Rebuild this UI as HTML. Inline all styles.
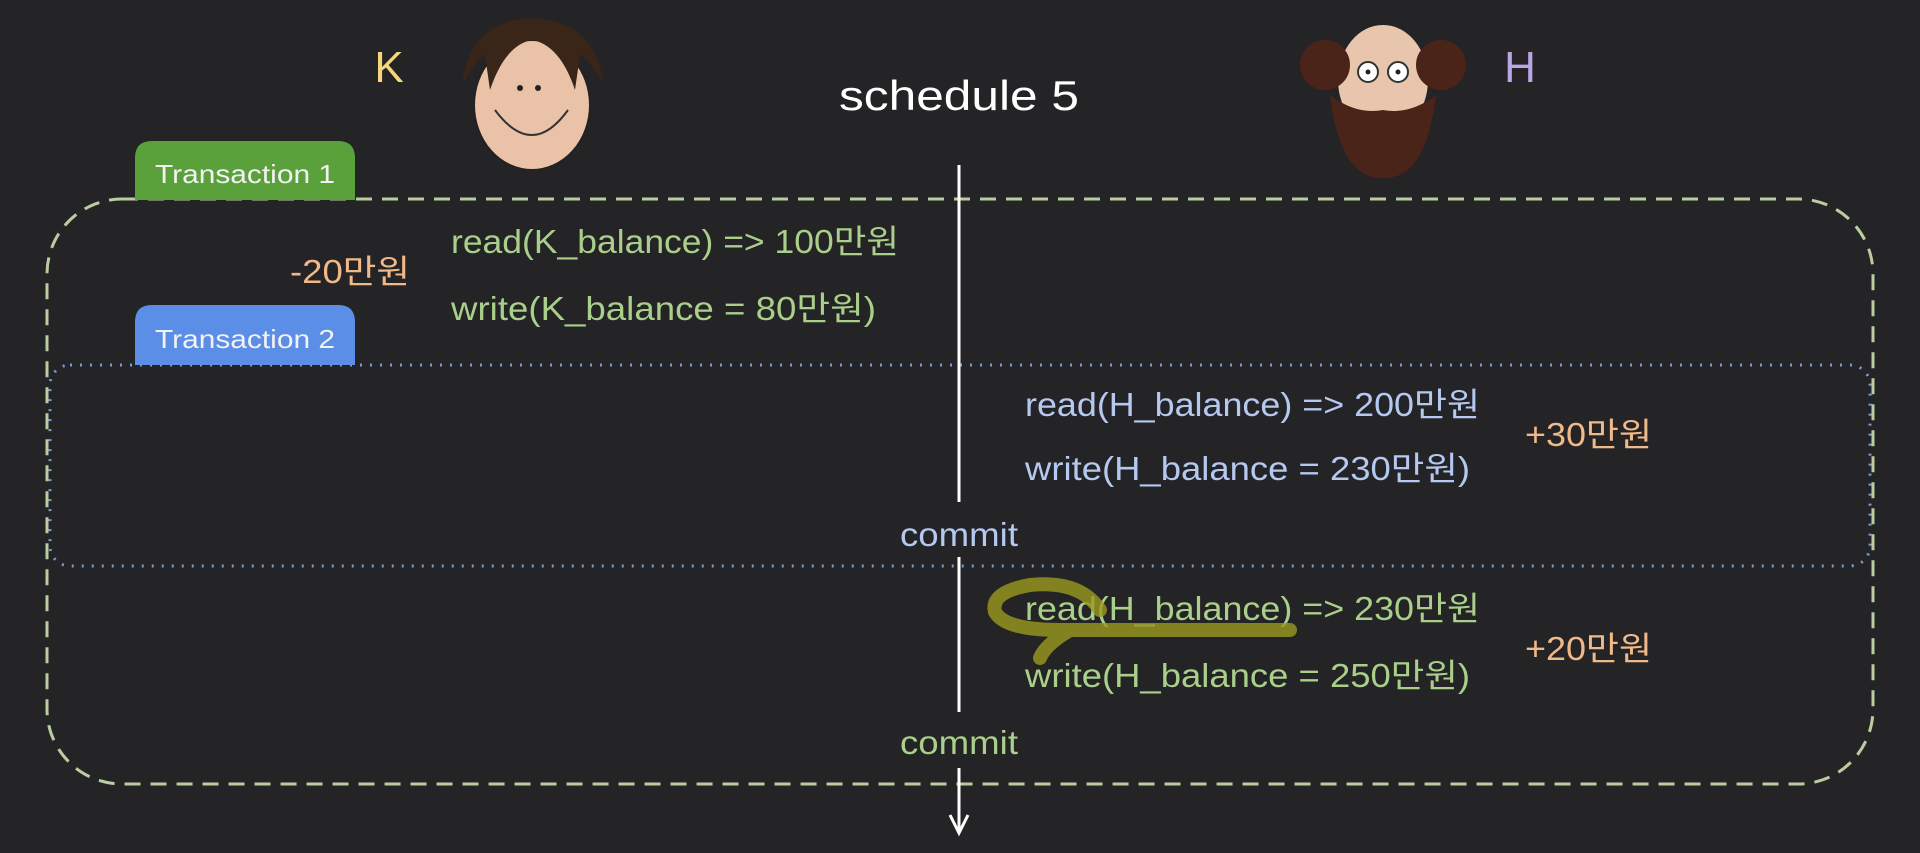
<!DOCTYPE html>
<html><head><meta charset="utf-8"><style>
html,body{margin:0;padding:0;background:#242325;}
svg{display:block}
text{font-family:"Liberation Sans","Noto Sans CJK KR",sans-serif;}
</style></head><body>
<svg width="1920" height="853" viewBox="0 0 1920 853" xmlns="http://www.w3.org/2000/svg">
<rect width="1920" height="853" fill="#242325"/>
<rect x="47" y="199" width="1826" height="585" rx="75" fill="none" stroke="#b9cda0" stroke-width="3" stroke-dasharray="16 10"/>
<rect x="50" y="365" width="1820" height="201" rx="20" fill="none" stroke="#7a9bd0" stroke-width="3" stroke-dasharray="2 8"/>
<path d="M135 200 V158 Q135 141 152 141 H338 Q355 141 355 158 V200 Z" fill="#5aa13c"/>
<text x="245" y="183" font-size="26" fill="#f2f2f2" text-anchor="middle" textLength="180" lengthAdjust="spacingAndGlyphs">Transaction 1</text>
<path d="M135 365 V322 Q135 305 152 305 H338 Q355 305 355 322 V365 Z" fill="#5b8ee6"/>
<text x="245" y="348" font-size="26" fill="#f2f2f2" text-anchor="middle" textLength="180" lengthAdjust="spacingAndGlyphs">Transaction 2</text>
<line x1="959" y1="165" x2="959" y2="502" stroke="#fff" stroke-width="3"/>
<line x1="959" y1="557" x2="959" y2="712" stroke="#fff" stroke-width="3"/>
<line x1="959" y1="768" x2="959" y2="830" stroke="#fff" stroke-width="3"/>
<path d="M950 815 L959 833 L968 815" fill="none" stroke="#fff" stroke-width="3"/>
<text x="959" y="110" font-size="42" fill="#fff" text-anchor="middle" textLength="240" lengthAdjust="spacingAndGlyphs">schedule 5</text>
<text x="389" y="82" font-size="44" fill="#f5d77a" text-anchor="middle">K</text>
<text x="1520" y="82" font-size="44" fill="#b9a6e6" text-anchor="middle">H</text>
<g>
<ellipse cx="532" cy="105" rx="58" ry="65" fill="#eac2a8" stroke="#222" stroke-width="2"/>
<path d="M462 85 Q470 20 532 18 Q595 20 604 85 Q590 60 580 55 L575 90 Q560 45 532 40 Q505 45 490 90 L485 55 Q475 60 462 85 Z" fill="#3a2519"/>
<circle cx="520" cy="88" r="3" fill="#222"/><circle cx="538" cy="88" r="3" fill="#222"/>
<path d="M495 110 Q532 160 568 110" fill="none" stroke="#333" stroke-width="2"/>
</g>
<g>
<ellipse cx="1383" cy="80" rx="45" ry="55" fill="#e8c6ae"/>
<circle cx="1325" cy="65" r="25" fill="#4a2418"/><circle cx="1441" cy="65" r="25" fill="#4a2418"/>
<path d="M1330 95 Q1340 180 1383 178 Q1426 180 1436 95 Q1410 115 1383 110 Q1356 115 1330 95 Z" fill="#4a2418"/>
<circle cx="1368" cy="72" r="10" fill="#fff" stroke="#333" stroke-width="2"/><circle cx="1398" cy="72" r="10" fill="#fff" stroke="#333" stroke-width="2"/>
<circle cx="1368" cy="72" r="2.5" fill="#222"/><circle cx="1398" cy="72" r="2.5" fill="#222"/>
</g>
<g font-size="33">
<text x="451" y="253" fill="#a9cf8a" textLength="448" lengthAdjust="spacingAndGlyphs">read(K_balance) =&gt; 100만원</text>
<text x="451" y="320" fill="#a9cf8a" textLength="425" lengthAdjust="spacingAndGlyphs">write(K_balance = 80만원)</text>
<text x="290" y="283" fill="#f0b98a" textLength="120" lengthAdjust="spacingAndGlyphs">-20만원</text>
<text x="1025" y="416" fill="#b5c8f0" textLength="455" lengthAdjust="spacingAndGlyphs">read(H_balance) =&gt; 200만원</text>
<text x="1025" y="480" fill="#b5c8f0" textLength="445" lengthAdjust="spacingAndGlyphs">write(H_balance = 230만원)</text>
<text x="1525" y="446" fill="#f0b98a" textLength="127" lengthAdjust="spacingAndGlyphs">+30만원</text>
<text x="900" y="546" fill="#b5c8f0" textLength="118" lengthAdjust="spacingAndGlyphs">commit</text>
<text x="1025" y="620" fill="#a9cf8a" textLength="455" lengthAdjust="spacingAndGlyphs">read(H_balance) =&gt; 230만원</text>
<text x="1025" y="687" fill="#a9cf8a" textLength="445" lengthAdjust="spacingAndGlyphs">write(H_balance = 250만원)</text>
<text x="1525" y="660" fill="#f0b98a" textLength="127" lengthAdjust="spacingAndGlyphs">+20만원</text>
<text x="900" y="754" fill="#a9cf8a" textLength="118" lengthAdjust="spacingAndGlyphs">commit</text>
</g>
<path d="M1100 610 Q1080 580 1030 585 Q990 592 995 612 Q1005 630 1060 630 L1290 630 M1070 630 Q1045 645 1040 658" fill="none" stroke="#9a9a20" stroke-opacity="0.8" stroke-width="14" stroke-linecap="round"/>
</svg>
</body></html>
